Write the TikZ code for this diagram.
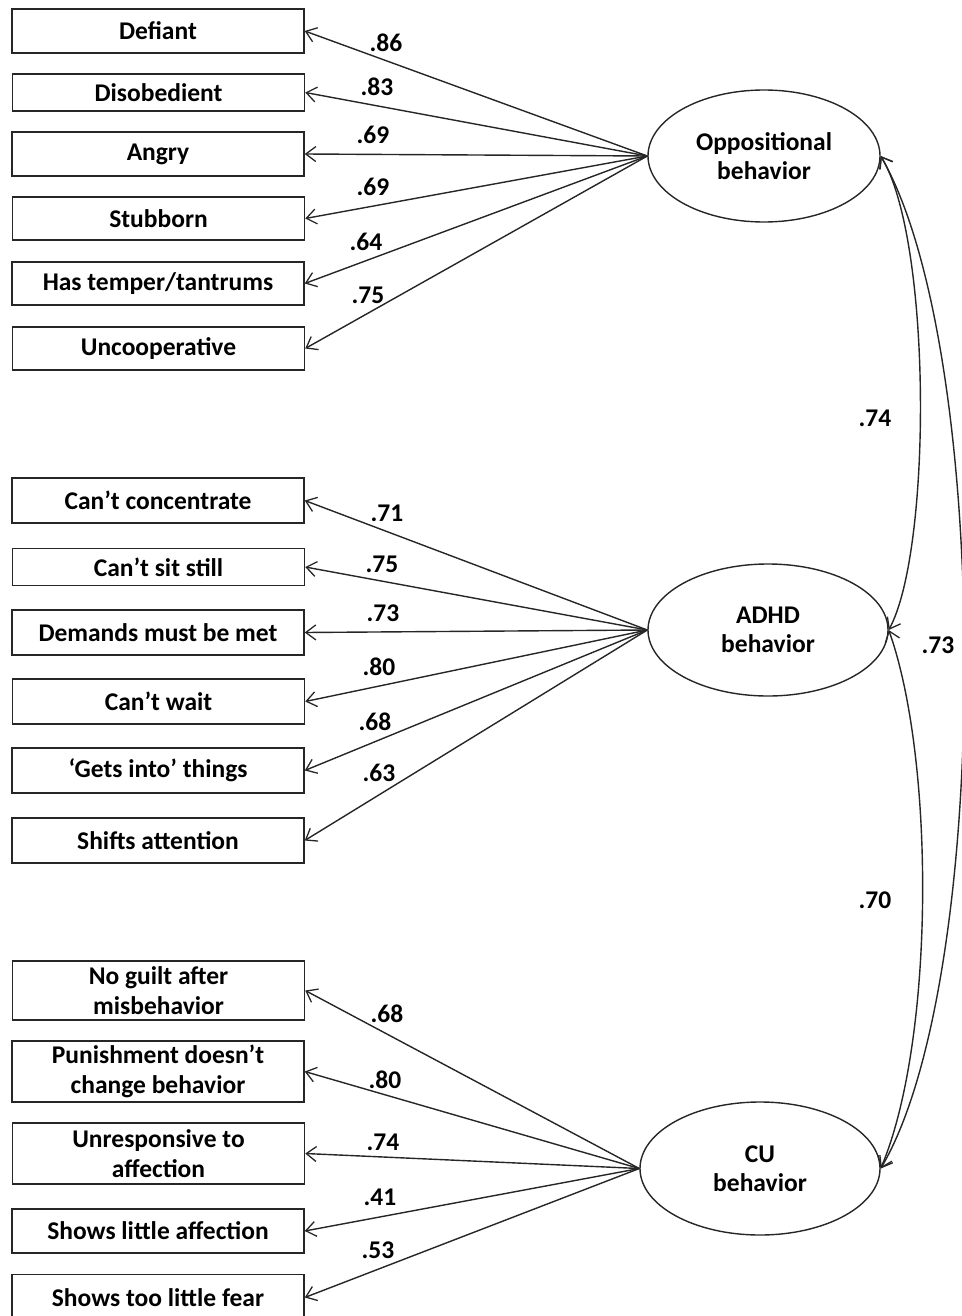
\documentclass[tikz,border=0pt]{standalone}
\usepackage{fontspec}
\setmainfont{Carlito}
\usetikzlibrary{shapes.geometric,arrows.meta}
\tikzset{
  every node/.style={font=\fontsize{25.5}{29.5}\selectfont\bfseries, text=black},
  item/.style={draw=black!85, line width=1.5pt, minimum width=292pt, inner sep=0pt, align=center},
  latent/.style={draw=black!85, ellipse, line width=1.4pt, inner sep=0pt, align=center},
  load/.style={draw=black!85, line width=1.4pt, -{Straight Barb[length=10pt,width=15pt,line width=1.3pt]}},
  cov/.style={draw=black!85, line width=1.4pt, {Straight Barb[length=10pt,width=15pt,line width=1.3pt]}-{Straight Barb[length=10pt,width=15pt,line width=1.3pt]}},
  coef/.style={inner sep=0pt}
}
\begin{document}
\begin{tikzpicture}[x=1pt,y=-1pt]
\useasboundingbox (0,0) rectangle (961,1316);
% items
\node[item, minimum height=44pt] (i1) at (158,31) {Defiant};
\node[item, minimum height=37pt] (i2) at (158.5,92.5) {Disobedient};
\node[item, minimum height=44pt] (i3) at (158,154) {Angry};
\node[item, minimum height=43pt] (i4) at (158.5,218.5) {Stubborn};
\node[item, minimum height=43pt] (i5) at (158,283.5) {Has temper/tantrums};
\node[item, minimum height=43pt] (i6) at (158.5,348.5) {Uncooperative};
\node[item, minimum height=45pt] (a1) at (158,500.5) {Can’t concentrate};
\node[item, minimum height=37pt] (a2) at (158.5,567) {Can’t sit still};
\node[item, minimum height=45pt] (a3) at (158,632.5) {Demands must be met};
\node[item, minimum height=45pt] (a4) at (158.5,701.5) {Can’t wait};
\node[item, minimum height=45pt] (a5) at (158,770.5) {‘Gets into’ things};
\node[item, minimum height=45pt] (a6) at (158,840.5) {Shifts attention};
\node[item, minimum height=59pt] (c1) at (158.5,990.5) {No guilt after\\misbehavior};
\node[item, minimum height=61pt] (c2) at (158,1071.5) {Punishment doesn’t\\change behavior};
\node[item, minimum height=61pt] (c3) at (158.5,1153.5) {Unresponsive to\\affection};
\node[item, minimum height=44pt] (c4) at (158,1231) {Shows little affection};
\node[item, minimum height=46pt] (c5) at (158,1297.5) {Shows too little fear};
% latent variables
\node[latent, minimum width=232pt, minimum height=132pt] (opp) at (764,156) {Oppositional\\behavior};
\node[latent, minimum width=240pt, minimum height=132pt] (adhd) at (768,630) {ADHD\\behavior};
\node[latent, minimum width=240pt, minimum height=133pt] (cu) at (760,1168.5) {CU\\behavior};
% loadings
\foreach \t in {i1,i2,i3,i4,i5,i6} \draw[load] (opp.west) -- (\t.east);
\foreach \t in {a1,a2,a3,a4,a5,a6} \draw[load] (adhd.west) -- (\t.east);
\foreach \t in {c1,c2,c3,c4,c5} \draw[load] (cu.west) -- (\t.east);
% loading coefficients
\node[coef] (l1) at (386,43) {.86};
\node[coef] (l2) at (377,87) {.83};
\node[coef] (l3) at (373,135) {.69};
\node[coef] (l4) at (373,187) {.69};
\node[coef] (l5) at (366,242) {.64};
\node[coef] (l6) at (368,295) {.75};
\node[coef] (m1) at (387,513) {.71};
\node[coef] (m2) at (382,564) {.75};
\node[coef] (m3) at (383,613) {.73};
\node[coef] (m4) at (379,667) {.80};
\node[coef] (m5) at (375,722) {.68};
\node[coef] (m6) at (379,773) {.63};
\node[coef] (n1) at (387,1014) {.68};
\node[coef] (n2) at (385,1080) {.80};
\node[coef] (n3) at (383,1142) {.74};
\node[coef] (n4) at (380,1197) {.41};
\node[coef] (n5) at (378,1250) {.53};
% covariances
\draw[cov] (opp.east) .. controls (932,240) and (932,550) .. (adhd.east);
\draw[cov] (adhd.east) .. controls (935,760) and (935,1040) .. (cu.east);
\draw[cov] (opp.east) .. controls (992,350) and (992,980) .. (cu.east);
\node[coef] (k1) at (875,418) {.74};
\node[coef] (k2) at (938,645) {.73};
\node[coef] (k3) at (875,900) {.70};
\end{tikzpicture}
\end{document}
